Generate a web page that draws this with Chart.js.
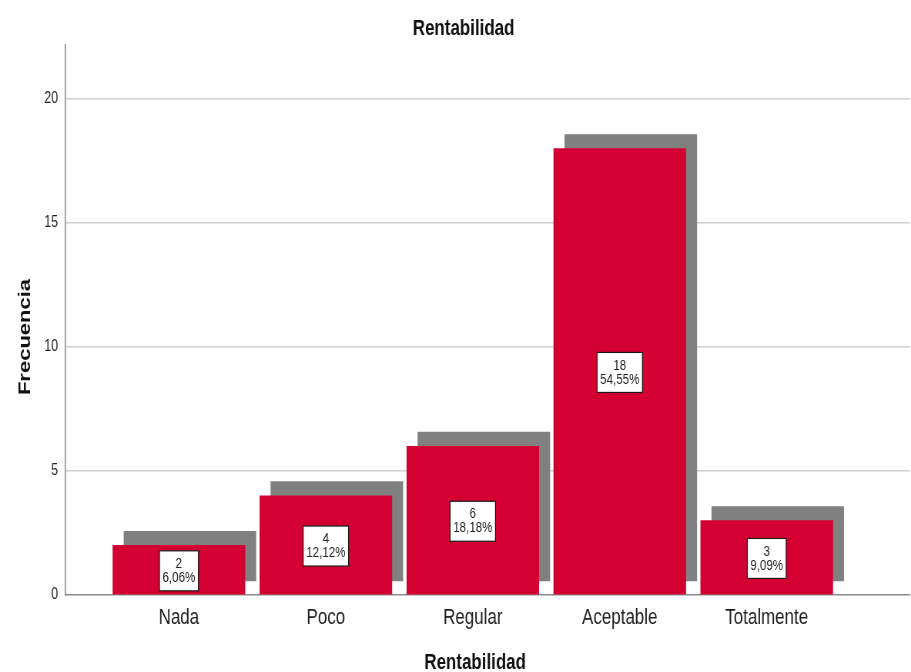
<!DOCTYPE html>
<html>
<head>
<meta charset="utf-8">
<title>Rentabilidad</title>
<script src="https://cdn.jsdelivr.net/npm/chart.js@4.4.1/dist/chart.umd.min.js"></script>
<style>
  html, body { margin: 0; padding: 0; background: #fff; overflow: hidden; }
  /* the chart is laid out wide and squeezed horizontally, like the SPSS export */
  #wrap { width: 1183px; height: 672px; transform: scaleX(0.77008); transform-origin: 0 0; }
</style>
</head>
<body>
<div id="wrap"><canvas id="chart"></canvas></div>
<script>
// frequencies per answer
const categories = ['Nada', 'Poco', 'Regular', 'Aceptable', 'Totalmente'];
const counts = [2, 4, 6, 18, 3];
const yTicks = [0, 5, 10, 15, 20];

const total = counts.reduce((a, b) => a + b, 0);
const percents = counts.map(v => (v / total * 100).toFixed(2).replace('.', ','));

// drop shadow offset, in axis units
const SHADOW_DX = 0.075;
const SHADOW_DY = 0.57;

const FONT = '"Liberation Sans", Arial, sans-serif';
const BAR_RED = '#d50032';
const SHADOW_GREY = '#808080';

// white boxes with count and percentage in the middle of each bar
const valueBoxes = {
  id: 'valueBoxes',
  afterDatasetsDraw(chart) {
    const ctx = chart.ctx;
    const meta = chart.getDatasetMeta(1);
    ctx.save();
    ctx.font = '15px ' + FONT;
    ctx.textAlign = 'center';
    ctx.textBaseline = 'middle';
    meta.data.forEach((bar, i) => {
      const lines = [String(counts[i]), percents[i] + '%'];
      const w = Math.max(...lines.map(t => ctx.measureText(t).width)) + 8;
      const h = 40;
      const cy = (bar.y + bar.base) / 2 + 1;
      const x0 = bar.x - w / 2, y0 = cy - h / 2;
      ctx.fillStyle = '#fff';
      ctx.fillRect(x0, y0, w, h);
      ctx.strokeStyle = '#1a1a1a';
      ctx.lineWidth = 1.2;
      ctx.strokeRect(x0, y0, w, h);
      ctx.fillStyle = '#222';
      ctx.fillText(lines[0], bar.x, cy - 7);
      ctx.fillText(lines[1], bar.x, cy + 7);
    });
    ctx.restore();
  }
};

// chart title and both axis titles
const titles = {
  id: 'titles',
  afterDraw(chart) {
    const ctx = chart.ctx;
    ctx.save();
    ctx.font = 'bold 22px ' + FONT;
    ctx.fillStyle = '#111';
    ctx.textAlign = 'center';
    ctx.textBaseline = 'alphabetic';
    ctx.fillText('Rentabilidad', 602, 35);
    ctx.fillText('Rentabilidad', 617, 669);
    ctx.translate(39, 337);
    ctx.rotate(-Math.PI / 2);
    ctx.fillText('Frecuencia', 0, 0);
    ctx.restore();
  }
};

new Chart(document.getElementById('chart'), {
  type: 'bar',
  data: {
    datasets: [
      {
        // grey shadow behind each bar
        data: counts.map((v, i) => ({ x: i + SHADOW_DX, y: [SHADOW_DY, v + SHADOW_DY] })),
        backgroundColor: SHADOW_GREY,
        order: 2
      },
      {
        data: counts.map((v, i) => ({ x: i, y: v })),
        backgroundColor: BAR_RED,
        order: 1
      }
    ]
  },
  options: {
    responsive: true,
    maintainAspectRatio: false,
    animation: false,
    devicePixelRatio: 1,
    layout: { padding: { top: 45, right: 1.5, left: 0, bottom: 0 } },
    datasets: { bar: { barThickness: 171.5, grouped: false } },
    plugins: {
      legend: { display: false },
      tooltip: { enabled: false },
      title: { display: false }
    },
    scales: {
      x: {
        type: 'linear',
        offset: false,
        min: -0.775,
        max: 4.974,
        afterBuildTicks: scale => { scale.ticks = categories.map((c, i) => ({ value: i })); },
        afterFit: scale => { scale.height = 77; },
        grid: { display: false, offset: false },
        border: { display: true, color: '#8a8a8a', width: 1.5 },
        ticks: {
          callback: v => categories[v],
          color: '#222',
          padding: 2,
          maxRotation: 0,
          autoSkip: false,
          font: { family: FONT, size: 22 }
        }
      },
      y: {
        min: 0,
        max: 22.18,
        afterBuildTicks: scale => { scale.ticks = yTicks.map(v => ({ value: v })); },
        afterFit: scale => { scale.width = 84.4; },
        grid: {
          drawTicks: false,
          lineWidth: 1.5,
          color: c => (c.tick && c.tick.value === 0) ? 'rgba(0,0,0,0)' : '#cfcfcf'
        },
        border: { display: true, color: '#8a8a8a', width: 1.5 },
        ticks: {
          color: '#222',
          padding: 9,
          font: { family: FONT, size: 16 }
        }
      }
    }
  },
  plugins: [valueBoxes, titles]
});
</script>
</body>
</html>
